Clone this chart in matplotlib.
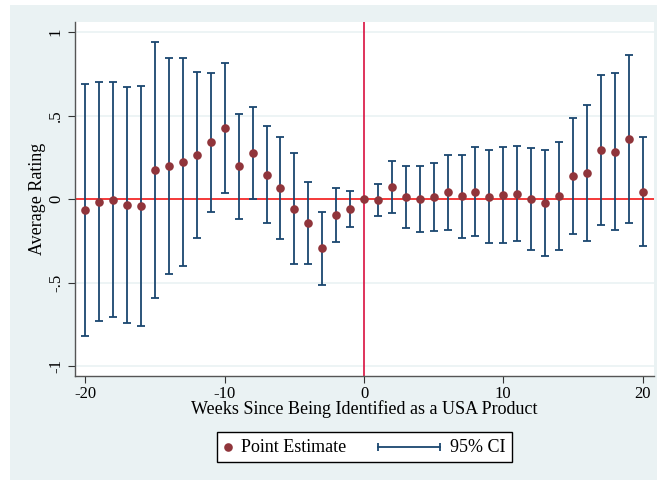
import matplotlib.pyplot as plt
from matplotlib.patches import Rectangle
from matplotlib.lines import Line2D
import numpy as np

# event-study estimates, weeks relative to identification (week 0 = reference)
weeks = list(range(-20, 21))
estimate = [-0.064, -0.016, -0.004, -0.036, -0.042, 0.175, 0.201, 0.223, 0.265, 0.341,
            0.426, 0.197, 0.279, 0.147, 0.069, -0.056, -0.140, -0.293, -0.094, -0.058,
            0.0,
            -0.004, 0.074, 0.014, 0.000, 0.014, 0.042, 0.020, 0.046, 0.016, 0.027,
            0.034, 0.002, -0.020, 0.018, 0.139, 0.155, 0.295, 0.285, 0.361, 0.046]
ci_upper = [0.688, 0.700, 0.700, 0.670, 0.680, 0.941, 0.843, 0.845, 0.760, 0.757,
            0.817, 0.510, 0.554, 0.437, 0.375, 0.279, 0.102, -0.074, 0.066, 0.050,
            np.nan,
            0.092, 0.227, 0.197, 0.197, 0.219, 0.263, 0.265, 0.311, 0.293, 0.313,
            0.317, 0.309, 0.297, 0.345, 0.484, 0.566, 0.743, 0.755, 0.861, 0.373]
ci_lower = [-0.816, -0.728, -0.706, -0.740, -0.758, -0.588, -0.445, -0.399, -0.230, -0.076,
            0.038, -0.116, 0.004, -0.144, -0.237, -0.389, -0.385, -0.511, -0.253, -0.168,
            np.nan,
            -0.102, -0.082, -0.170, -0.196, -0.190, -0.182, -0.230, -0.220, -0.260, -0.261,
            -0.251, -0.301, -0.337, -0.305, -0.208, -0.251, -0.152, -0.184, -0.140, -0.281]

y_ticks = [-1, -0.5, 0, 0.5, 1]
y_ticklabels = ["-1", "-.5", "0", ".5", "1"]
x_ticks = [-20, -10, 0, 10, 20]

navy = "#1A476F"
cranberry = "#90353B"
bg = "#EAF2F3"

plt.rcParams["font.family"] = ["Liberation Serif", "DejaVu Serif"]
plt.rcParams["axes.unicode_minus"] = False

W, H = 657, 480
fig = plt.figure(figsize=(W / 100, H / 100), dpi=100)
fig.patch.set_facecolor("white")
fig.patches.append(Rectangle((10 / W, 0), 1 - 10 / W, 475 / H,
                             transform=fig.transFigure, facecolor=bg,
                             edgecolor="none", zorder=-10))

ax = fig.add_axes([75 / W, 1 - 376 / H, 579 / W, 354 / H])
ax.set_facecolor("white")

w = np.array(weeks, dtype=float)
est = np.array(estimate)
hi = np.array(ci_upper)
lo = np.array(ci_lower)
mask = ~np.isnan(hi)

for y in [-1, -0.5, 0.5, 1]:
    ax.axhline(y, color=bg, lw=1.2, zorder=0)
ax.axhline(0, color="#F21818", lw=1.2, zorder=1)
ax.axvline(0, color="#D9113F", lw=1.2, zorder=1)

ax.errorbar(w[mask], (hi[mask] + lo[mask]) / 2, yerr=(hi[mask] - lo[mask]) / 2,
            fmt="none", ecolor=navy, elinewidth=1.3, capsize=3.2, capthick=1.3, zorder=2)
ax.plot(w, est, "o", color=cranberry, markersize=6.2, markeredgewidth=0, zorder=3)

ax.set_xlim(-20.75, 20.82)
ax.set_ylim(-1.057, 1.06)
ax.set_xticks(x_ticks)
ax.set_yticks(y_ticks)
ax.set_yticklabels(y_ticklabels, rotation=90, va="center")
ax.tick_params(axis="both", labelsize=12, length=5, width=0.8, color="#333333", pad=2)
ax.tick_params(axis="y", pad=3)

for side in ["top", "right"]:
    ax.spines[side].set_visible(False)
for side in ["left", "bottom"]:
    ax.spines[side].set_color("#555555")
    ax.spines[side].set_linewidth(1.0)

ax.set_ylabel("Average Rating", fontsize=13, labelpad=1)
ax.set_xlabel("Weeks Since Being Identified as a USA Product", fontsize=13, labelpad=-1)

# legend box drawn by hand so the two keys can have different widths
def fx(px):
    return px / W

def fy(px):
    return 1 - px / H

fig.patches.append(Rectangle((fx(217), fy(462)), fx(295), 30 / H, transform=fig.transFigure,
                             facecolor="white", edgecolor="black", lw=1.0, zorder=5))
fig.lines.append(Line2D([fx(228)], [fy(447)], transform=fig.transFigure, marker="o",
                        color=cranberry, markersize=6.2, markeredgewidth=0, zorder=6))
fig.text(fx(241), fy(447), "Point Estimate", fontsize=13, va="center", ha="left", zorder=6)
fig.lines.append(Line2D([fx(378), fx(440)], [fy(447), fy(447)], transform=fig.transFigure,
                        color=navy, lw=1.3, marker="|", markersize=6, markeredgewidth=1.3,
                        zorder=6))
fig.text(fx(450), fy(447), "95% CI", fontsize=13, va="center", ha="left", zorder=6)

fig.savefig("out.png", dpi=100, facecolor=fig.get_facecolor())
